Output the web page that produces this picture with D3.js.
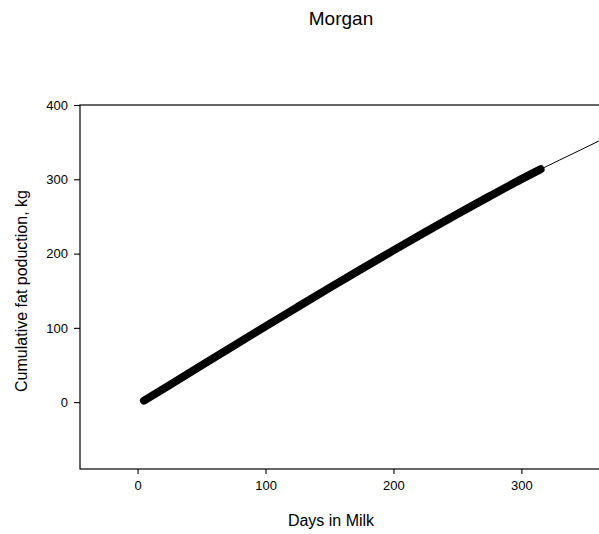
<!DOCTYPE html>
<html>
<head>
<meta charset="utf-8">
<script src="https://cdn.jsdelivr.net/npm/d3@7"></script>
<style>
  body { margin: 0; background: #fff; }
  svg { display: block; font-family: "Liberation Sans", Arial, sans-serif; }
</style>
</head>
<body>
<script>
// Data =============================================
const chartTitle = "Morgan";
const xLabel = "Days in Milk";
const yLabel = "Cumulative fat poduction, kg";

const xTicks = [0, 100, 200, 300];
const yTicks = [0, 100, 200, 300, 400];

// observed cumulative fat (thick band)
const obsDays = [5, 25, 50, 75, 100, 125, 150, 175, 200, 225, 250, 275, 300, 315];
const obsFat  = [2, 23, 49.5, 75.8, 102, 128, 153.8, 179.2, 204.3, 229, 253.3, 277, 300.2, 313.5];

// fitted curve (thin line)
const fitDays = [5, 50, 100, 150, 200, 250, 300, 315, 330, 360, 400];
const fitFat  = [2, 49.5, 102, 153.8, 204.3, 253.3, 300.2, 313.5, 326, 351, 384];

// =============================================
let width = 599,
    height = 534;

let margin = {top: 105, right: -3, bottom: 65, left: 80};

let svg = d3.select("body").append("svg")
    .attr("width", width)
    .attr("height", height);

let x = d3.scaleLinear()
    .domain([-45, 363])
    .range([margin.left, width - margin.right]);

let y = d3.scaleLinear()
    .domain([-90, 400])
    .range([height - margin.bottom, margin.top]);

// Frame
svg.append("rect")
    .attr("x", x.range()[0])
    .attr("y", y.range()[1])
    .attr("width", x.range()[1] - x.range()[0])
    .attr("height", y.range()[0] - y.range()[1])
    .attr("fill", "none")
    .attr("stroke", "#000")
    .attr("stroke-width", 1.2);

// Axes
let xAxis = d3.axisBottom(x)
    .tickValues(xTicks)
    .tickSize(5)
    .tickPadding(7);

let yAxis = d3.axisLeft(y)
    .tickValues(yTicks)
    .tickSize(6)
    .tickPadding(6);

let gx = svg.append("g")
    .attr("transform", `translate(0,${y.range()[0]})`)
    .call(xAxis);

let gy = svg.append("g")
    .attr("transform", `translate(${x.range()[0]},0)`)
    .call(yAxis);

[gx, gy].forEach(g => {
  g.select(".domain").remove();
  g.selectAll("line").attr("stroke", "#000").attr("stroke-width", 1.1);
  g.selectAll("text")
    .attr("fill", "#000")
    .style("font-family", "Liberation Sans, Arial, sans-serif")
    .style("font-size", "13px");
});

// Lines
let line = d3.line()
    .curve(d3.curveMonotoneX)
    .x(d => x(d[0]))
    .y(d => y(d[1]));

svg.append("path")
    .datum(fitDays.map((d, i) => [d, fitFat[i]]))
    .attr("d", line)
    .attr("fill", "none")
    .attr("stroke", "#000")
    .attr("stroke-width", 1);

svg.append("path")
    .datum(obsDays.map((d, i) => [d, obsFat[i]]))
    .attr("d", line)
    .attr("fill", "none")
    .attr("stroke", "#000")
    .attr("stroke-width", 8)
    .attr("stroke-linecap", "round")
    .attr("stroke-linejoin", "round");

// Titles
svg.append("text")
    .attr("x", 341)
    .attr("y", 25)
    .attr("text-anchor", "middle")
    .style("font-size", "19px")
    .text(chartTitle);

svg.append("text")
    .attr("x", 331)
    .attr("y", 526)
    .attr("text-anchor", "middle")
    .style("font-size", "16px")
    .text(xLabel);

svg.append("text")
    .attr("transform", "translate(27,291) rotate(-90)")
    .attr("text-anchor", "middle")
    .style("font-size", "16px")
    .text(yLabel);
</script>
</body>
</html>
